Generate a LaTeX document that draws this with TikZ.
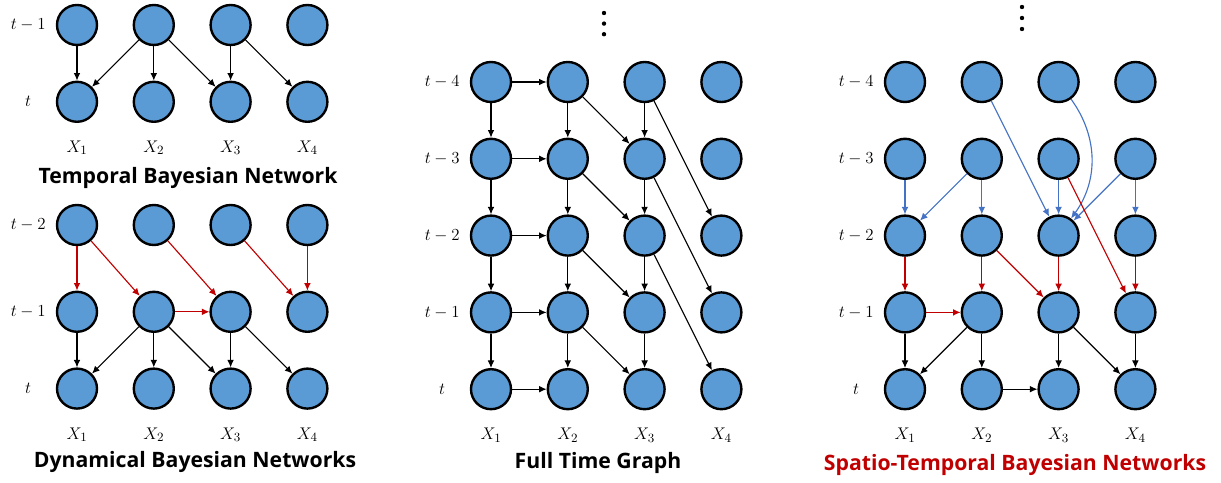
\documentclass[tikz,border=0pt]{standalone}
\usepackage{amsmath}
\usepackage{xcolor}
\usepackage{fontspec}
\usepackage{tikz}
\usetikzlibrary{calc, arrows.meta, positioning}
\newfontfamily\titlefont{Open Sans}
\definecolor{nodeblue}{HTML}{5B9BD5}
\definecolor{edgeblue}{HTML}{4472C4}
\definecolor{edgered}{HTML}{C00000}

\begin{document}
\begin{tikzpicture}[var/.style={draw, fill=nodeblue, circle, line width=1.7pt, minimum size=1cm, inner sep=0pt, node distance= {1.92cm}},
			timename/.style={font=\fontsize{12.5}{15}\selectfont, node distance= {1.22cm}},
			varname/.style={font=\fontsize{12.5}{15}\selectfont, node distance= {1.15cm}},
			caption/.style={font=\titlefont\bfseries\fontsize{15.1}{18}\selectfont},
			link/.style={line width=0.8pt, black, -{Latex[length=1.9mm, width=1.7mm]}},
			redlink/.style={link, edgered},
			bluelink/.style={link, edgeblue}
			]
			\useasboundingbox (0,0) rectangle (30.525,-12.075);

			% Temporal Bayesian Network
			\node [var](a11) at (1.925,-0.625) {};
			\node [var](a12) [right of=a11] {};
			\node [var](a13) [right of=a12] {};
			\node [var](a14) [right of=a13] {};
			\node [var](a21) [below of=a11] {};
			\node [var](a22) [right of=a21] {};
			\node [var](a23) [right of=a22] {};
			\node [var](a24) [right of=a23] {};
			\node [timename](ta1) [left of=a11] {$t-1$};
			\node [timename](ta2) [left of=a21] {$t$};
			\node [varname](xa1) [below of=a21] {$X_1$};
			\node [varname](xa2) [below of=a22] {$X_2$};
			\node [varname](xa3) [below of=a23] {$X_3$};
			\node [varname](xa4) [below of=a24] {$X_4$};
			\node [caption](capa) at (4.7,-4.45) {Temporal Bayesian Network};

			\draw[link] (a11) -- (a21);
			\draw[link] (a12) -- (a21);
			\draw[link] (a12) -- (a22);
			\draw[link] (a12) -- (a23);
			\draw[link] (a13) -- (a23);
			\draw[link] (a13) -- (a24);

			% Dynamical Bayesian Networks
			\node [var](b11) at (1.925,-5.625) {};
			\node [var](b12) [right of=b11] {};
			\node [var](b13) [right of=b12] {};
			\node [var](b14) [right of=b13] {};
			\node [var, node distance=2.17cm](b21) [below of=b11] {};
			\node [var](b22) [right of=b21] {};
			\node [var](b23) [right of=b22] {};
			\node [var](b24) [right of=b23] {};
			\node [var](b31) [below of=b21] {};
			\node [var](b32) [right of=b31] {};
			\node [var](b33) [right of=b32] {};
			\node [var](b34) [right of=b33] {};
			\node [timename](tb1) [left of=b11] {$t-2$};
			\node [timename](tb2) [left of=b21] {$t-1$};
			\node [timename](tb3) [left of=b31] {$t$};
			\node [varname](xb1) [below of=b31] {$X_1$};
			\node [varname](xb2) [below of=b32] {$X_2$};
			\node [varname](xb3) [below of=b33] {$X_3$};
			\node [varname](xb4) [below of=b34] {$X_4$};
			\node [caption](capb) at (4.875,-11.55) {Dynamical Bayesian Networks};

			\draw[redlink] (b11) -- (b21);
			\draw[redlink] (b11) -- (b22);
			\draw[redlink] (b12) -- (b23);
			\draw[redlink] (b13) -- (b24);
			\draw[redlink] (b14) -- (b24);
			\draw[redlink] (b22) -- (b23);
			\draw[link] (b21) -- (b31);
			\draw[link] (b22) -- (b31);
			\draw[link] (b22) -- (b32);
			\draw[link] (b22) -- (b33);
			\draw[link] (b23) -- (b33);
			\draw[link] (b23) -- (b34);

			% Full Time Graph
			\fill (15.1,-0.325) circle (0.055) (15.1,-0.59) circle (0.055) (15.1,-0.855) circle (0.055);
			\node [var](c11) at (12.275,-2.05) {};
			\node [var](c12) [right of=c11] {};
			\node [var](c13) [right of=c12] {};
			\node [var](c14) [right of=c13] {};
			\node [var](c21) [below of=c11] {};
			\node [var](c22) [right of=c21] {};
			\node [var](c23) [right of=c22] {};
			\node [var](c24) [right of=c23] {};
			\node [var](c31) [below of=c21] {};
			\node [var](c32) [right of=c31] {};
			\node [var](c33) [right of=c32] {};
			\node [var](c34) [right of=c33] {};
			\node [var](c41) [below of=c31] {};
			\node [var](c42) [right of=c41] {};
			\node [var](c43) [right of=c42] {};
			\node [var](c44) [right of=c43] {};
			\node [var](c51) [below of=c41] {};
			\node [var](c52) [right of=c51] {};
			\node [var](c53) [right of=c52] {};
			\node [var](c54) [right of=c53] {};
			\node [timename](tc1) [left of=c11] {$t-4$};
			\node [timename](tc2) [left of=c21] {$t-3$};
			\node [timename](tc3) [left of=c31] {$t-2$};
			\node [timename](tc4) [left of=c41] {$t-1$};
			\node [timename](tc5) [left of=c51] {$t$};
			\node [varname](xc1) [below of=c51] {$X_1$};
			\node [varname](xc2) [below of=c52] {$X_2$};
			\node [varname](xc3) [below of=c53] {$X_3$};
			\node [varname](xc4) [below of=c54] {$X_4$};
			\node [caption](capc) at (14.95,-11.575) {Full Time Graph};

			\draw[link] (c11) -- (c12);
			\draw[link] (c21) -- (c22);
			\draw[link] (c31) -- (c32);
			\draw[link] (c41) -- (c42);
			\draw[link] (c51) -- (c52);
			\draw[link] (c11) -- (c21);
			\draw[link] (c21) -- (c31);
			\draw[link] (c31) -- (c41);
			\draw[link] (c41) -- (c51);
			\draw[link] (c12) -- (c22);
			\draw[link] (c22) -- (c32);
			\draw[link] (c32) -- (c42);
			\draw[link] (c42) -- (c52);
			\draw[link] (c13) -- (c23);
			\draw[link] (c23) -- (c33);
			\draw[link] (c33) -- (c43);
			\draw[link] (c43) -- (c53);
			\draw[link] (c12) -- (c23);
			\draw[link] (c22) -- (c33);
			\draw[link] (c32) -- (c43);
			\draw[link] (c42) -- (c53);
			\draw[link] (c13) -- (c34);
			\draw[link] (c23) -- (c44);
			\draw[link] (c33) -- (c54);

			% Spatio-Temporal Bayesian Networks
			\fill (25.55,-0.175) circle (0.055) (25.55,-0.45) circle (0.055) (25.55,-0.725) circle (0.055);
			\node [var](d11) at (22.625,-2.05) {};
			\node [var](d12) [right of=d11] {};
			\node [var](d13) [right of=d12] {};
			\node [var](d14) [right of=d13] {};
			\node [var](d21) [below of=d11] {};
			\node [var](d22) [right of=d21] {};
			\node [var](d23) [right of=d22] {};
			\node [var](d24) [right of=d23] {};
			\node [var](d31) [below of=d21] {};
			\node [var](d32) [right of=d31] {};
			\node [var](d33) [right of=d32] {};
			\node [var](d34) [right of=d33] {};
			\node [var](d41) [below of=d31] {};
			\node [var](d42) [right of=d41] {};
			\node [var](d43) [right of=d42] {};
			\node [var](d44) [right of=d43] {};
			\node [var](d51) [below of=d41] {};
			\node [var](d52) [right of=d51] {};
			\node [var](d53) [right of=d52] {};
			\node [var](d54) [right of=d53] {};
			\node [timename](td1) [left of=d11] {$t-4$};
			\node [timename](td2) [left of=d21] {$t-3$};
			\node [timename](td3) [left of=d31] {$t-2$};
			\node [timename](td4) [left of=d41] {$t-1$};
			\node [timename](td5) [left of=d51] {$t$};
			\node [varname](xd1) [below of=d51] {$X_1$};
			\node [varname](xd2) [below of=d52] {$X_2$};
			\node [varname](xd3) [below of=d53] {$X_3$};
			\node [varname](xd4) [below of=d54] {$X_4$};
			\node [caption, edgered](capd) at (25.375,-11.625) {Spatio-Temporal Bayesian Networks};

			\draw[bluelink] (d21) -- (d31);
			\draw[bluelink] (d22) -- (d31);
			\draw[bluelink] (d22) -- (d32);
			\draw[bluelink] (d12) -- (d33);
			\draw[bluelink] (d23) -- (d33);
			\draw[bluelink] (d13) to[bend left=36] (d33);
			\draw[bluelink] (d24) -- (d33);
			\draw[bluelink] (d24) -- (d34);
			\draw[redlink] (d31) -- (d41);
			\draw[redlink] (d32) -- (d42);
			\draw[redlink] (d32) -- (d43);
			\draw[redlink] (d33) -- (d43);
			\draw[redlink] (d23) -- (d44);
			\draw[redlink] (d34) -- (d44);
			\draw[redlink] (d41) -- (d42);
			\draw[link] (d41) -- (d51);
			\draw[link] (d42) -- (d51);
			\draw[link] (d42) -- (d52);
			\draw[link] (d43) -- (d53);
			\draw[link] (d43) -- (d54);
			\draw[link] (d44) -- (d54);
			\draw[link] (d52) -- (d53);
		\end{tikzpicture}
\end{document}
